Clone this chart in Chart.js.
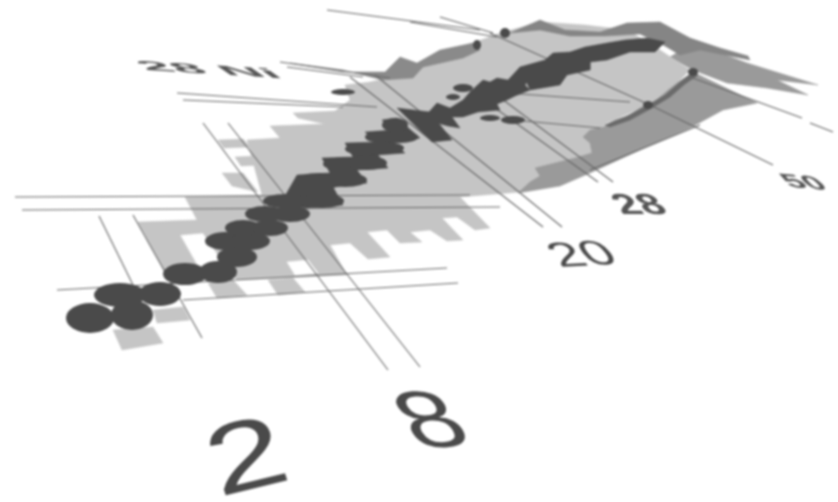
<!DOCTYPE html>
<html><head><meta charset="utf-8">
<style>html,body{margin:0;padding:0;background:#fff}canvas{display:block;filter:blur(0.8px)}</style>
<script src="https://cdn.jsdelivr.net/npm/chart.js@4"></script></head>
<body><canvas id="c" width="838" height="502"></canvas>
<script>
// Regions of the chart (horizontal, vertical position in the oblique view)
const lightRegion=[[247,140],[280,138],[270,126],[325,124],[298,118],[293,113],[335,111],[350,100],[345,85],[370,82],[413,72],[430,58],[473,43],[500,33],[540,22],[585,25],[627,30],[660,50],[690,70],[677,83],[653,103],[607,123],[590,137],[597,153],[560,168],[552,178],[533,183],[520,192],[460,197],[490,228],[475,230],[457,217],[442,218],[463,240],[447,241],[430,230],[410,232],[422,242],[400,243],[387,230],[367,232],[390,257],[368,259],[350,243],[330,245],[347,275],[237,280],[218,255],[203,233],[180,235],[197,265],[165,272],[138,222],[197,220],[185,197],[262,195],[247,140]];
const lightPieces=[
 [[218,140],[243,139],[250,147],[224,148],[218,140]],
 [[235,157],[256,156],[264,165],[241,166],[235,157]],
 [[222,173],[243,173],[258,192],[232,186],[222,173]],
 [[208,283],[233,280],[247,295],[217,298],[208,283]],
 [[268,280],[293,278],[305,292],[278,295],[268,280]],
 [[153,310],[183,307],[190,320],[157,323],[153,310]],
 [[113,330],[153,327],[163,343],[122,350],[113,330]]];
const holeRegion=[[287,262],[308,260],[318,273],[295,275],[287,262]];
const midRegionLower=[[518,193],[560,186],[590,173],[640,150],[690,128],[723,110],[757,103],[693,72],[677,83],[668,90],[653,103],[640,108],[630,115],[615,120],[603,127],[590,130],[583,137],[590,143],[592,153],[575,158],[555,163],[535,168],[540,176],[530,182],[518,193]];
const midRegionUpper=[[670,57],[693,43],[747,63],[818,85],[777,80],[808,95],[767,88],[727,83],[693,70],[670,57]];
const fuzzLeft=[[400,57],[417,63],[440,50],[473,43],[480,50],[463,58],[423,67],[413,78],[383,80],[343,70],[290,63],[343,72],[385,72],[400,57]];
const fuzzRight=[[540,20],[565,30],[600,32],[627,23],[660,22],[690,38],[720,48],[748,56],[750,60],[700,50],[680,55],[665,46],[640,34],[605,36],[570,36],[540,30],[510,33],[540,20]];
const fuzzEdge=[[693,72],[680,82],[665,95],[648,105],[625,117],[605,125],[610,127],[630,120],[652,108],[670,97],[685,84],[698,75],[693,72]];
const darkStairs=[[267,205],[285,196],[297,175],[330,173],[322,158],[353,157],[345,143],[377,142],[365,132],[393,130],[382,120],[397,118],[420,138],[393,143],[405,153],[378,155],[388,168],[357,170],[367,183],[333,187],[343,205],[307,208],[267,205]];
const darkDiagonal=[[397,108],[430,112],[452,140],[432,142],[397,108]];
const darkBandMid=[[428,113],[437,103],[450,108],[463,100],[470,92],[483,80],[490,82],[497,78],[508,80],[520,67],[532,75],[525,85],[530,90],[515,96],[507,100],[497,104],[500,110],[478,112],[463,117],[452,117],[460,128],[448,126],[437,123],[428,113]];
const darkBandUpper=[[553,53],[570,52],[585,47],[607,43],[625,40],[647,38],[665,42],[655,52],[630,52],[607,60],[590,62],[590,70],[567,75],[557,63],[553,53]];
const darkBandSide=[[520,67],[545,60],[553,53],[567,75],[560,85],[530,90],[520,67]];
// Grid lines: magic-number bands, drawn as thin strokes
const gridLines=[
 [[15,197],[470,195]],[[22,210],[500,207]],
 [[99,216],[133,285]],[[133,215],[202,338]],
 [[57,290],[447,268]],[[183,300],[458,283]],
 [[203,123],[388,370]],[[228,123],[420,367]],
 [[177,93],[377,107]],[[183,100],[343,107]],
 [[280,62],[390,78]],[[287,67],[363,77]],
 [[327,10],[480,30]],[[440,17],[493,33]],[[410,22],[497,37]],
 [[350,77],[543,227]],[[375,75],[562,227]],
 [[470,90],[598,182]],[[490,90],[613,182]],
 [[490,33],[650,105],[773,165]],[[690,77],[802,118]],[[810,123],[833,132]],
 [[507,93],[630,102]],[[513,120],[600,128]],[[590,170],[700,125]]];
// Stable nuclei: centres and half-widths / half-heights
const stableCentres=[[90,318],[132,315],[120,295],[160,294],[185,274],[218,272],[237,257],[225,241],[250,241],[243,228],[270,228],[265,214],[290,214],[285,201],[322,201],[320,181],[345,180],[345,164],[367,163],[365,149],[385,148],[382,137],[400,137],[395,125],[343,92],[490,118],[513,120],[463,88],[453,97],[505,33],[477,45],[693,72],[648,105]];
const stableWidth =[24,21,26,21,22,19,20,20,20,18,18,20,20,22,22,25,22,22,20,20,19,17,18,13,12,10,12,10,7,5,4,5,5];
const stableHeight=[15,15,12,12,11,11,10,9,9,8,8,8,8,7,7,8,7,7,7,6,6,6,6,7,3,3,4,4,3,5,5,4,4];
// Labels: text
const labelTexts=["2","8","20","28","50","28 Ni"];
const labelMatrix=[[1.35,-.33,.31,.95,219,497],[1.05,-.09,.5,.79,418,449],[.55,-.03,.27,.34,560,267],[.43,0,.22,.29,622,214],[.36,.03,.2,.2,790,187],[.58,.035,.2,.14,146,70]];
const labelFonts=["100px","100px","100px","bold 100px","bold 100px","bold 100px"];
const labelColour=["#4a4a4a","#4a4a4a","#4a4a4a","#555","#555","#555"];

const pts=a=>a.map(p=>({x:p[0],y:p[1]}));
const area=(a,c)=>({data:pts(a),showLine:true,fill:'shape',backgroundColor:c,borderColor:c,borderWidth:.5,pointRadius:0,tension:0});
const line=(a,c,w)=>({data:pts(a),showLine:true,fill:false,borderColor:c,borderWidth:w,pointRadius:0,tension:0});
function sprite(rx,ry){const s=document.createElement('canvas');s.width=Math.ceil(rx*2);s.height=Math.ceil(ry*2);const g=s.getContext('2d');g.fillStyle='#4a4a4a';g.beginPath();g.ellipse(rx,ry,rx,ry,0,0,Math.PI*2);g.fill();return s;}
const light='#c5c5c5',mid='#9a9a9a',dark='#4a4a4a',grey='#666666';
const sets=[
 area(midRegionUpper,mid),area(lightRegion,light),area(midRegionLower,mid),
 ...lightPieces.map(a=>area(a,light)),area(holeRegion,'#ffffff'),
 area(fuzzLeft,'#8a8a8a'),area(fuzzRight,'#858585'),area(fuzzEdge,'#6a6a6a'),
 ...gridLines.map(a=>line(a,grey,1.1)),
 area(darkStairs,dark),area(darkDiagonal,dark),area(darkBandMid,dark),area(darkBandUpper,dark),area(darkBandSide,dark),
 {data:pts(stableCentres),showLine:false,pointStyle:stableCentres.map((_,i)=>sprite(stableWidth[i],stableHeight[i])),pointRadius:10,borderWidth:0}
];
sets.forEach((d,i)=>d.order=sets.length-i);
const labelPlugin={id:'labels',afterDatasetsDraw(ch){const g=ch.ctx;labelTexts.forEach((t,i)=>{g.save();g.setTransform(...labelMatrix[i]);g.font=labelFonts[i]+' "Liberation Sans"';g.fillStyle=labelColour[i];g.textBaseline='alphabetic';g.fillText(t,0,0);g.restore();});}};
new Chart(document.getElementById('c'),{type:'scatter',data:{datasets:sets},plugins:[labelPlugin],options:{responsive:false,animation:false,layout:{padding:0,autoPadding:false},
 plugins:{legend:{display:false},tooltip:{enabled:false},title:{display:false}},
 scales:{x:{type:'linear',min:0,max:838,display:false},y:{type:'linear',min:0,max:502,reverse:true,display:false}}}});
</script></body></html>
